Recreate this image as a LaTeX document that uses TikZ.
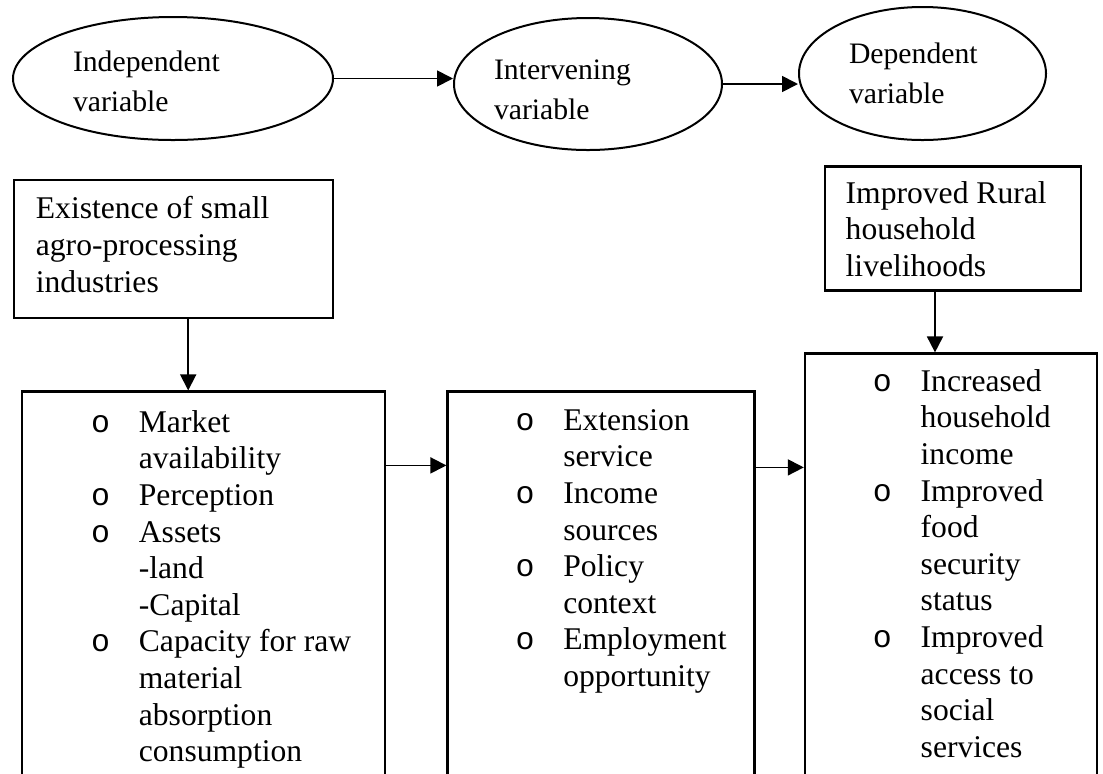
\documentclass[tikz,border=0pt]{standalone}
\usepackage{fontspec}
\setmainfont{Liberation Serif}
\newfontfamily\bulletfont{Liberation Mono}
\newcommand{\bul}{\makebox[23.9pt][l]{\bulletfont o}}
\newcommand{\ind}{\hspace*{23.9pt}}
\usetikzlibrary{positioning, shapes.geometric, arrows.meta}

\begin{document}
\begin{tikzpicture}[
    x=0.5pt, y=-0.5pt,
    ->,
    >={Triangle[length=8pt, width=8pt]},
    line width=0.9pt,
    var/.style={ellipse, draw, line width=1pt, inner sep=0pt, align=left, font=\fontsize{14.85}{20}\selectfont},
    box/.style={rectangle, draw, line width=1.2pt, inner sep=0pt, anchor=north west},
    txt/.style={inner sep=0pt, align=left, anchor=north west, font=\fontsize{15.8}{18.3}\selectfont}
  ]

  \useasboundingbox (0,0) rectangle (1103,773);
  \clip (0,0) rectangle (1103,773);

  % --- VARIABLES (TOP ROW) ---

  \node[var, text width=100pt, minimum width=160pt, minimum height=61.5pt] (indep) at (173,78.5)
    {\rule{0pt}{13.5pt}Independent\\variable};
  \node[var, text width=94pt, minimum width=134pt, minimum height=66pt, right=59.5pt of indep, yshift=-2.75pt] (interv)
    {\rule{0pt}{16pt}Intervening\\variable};
  \node[var, text width=73.5pt, minimum width=123.5pt, minimum height=66.5pt, right=37.5pt of interv, yshift=5.25pt] (dep)
    {\rule{0pt}{12pt}Dependent\\variable\rule[-2.5pt]{0pt}{2.5pt}};

  % --- BOXES ---

  \node[box, minimum width=159.5pt, minimum height=69pt] (boxA) at (13,179) {};
  \node[box, minimum width=181.5pt, minimum height=201pt, below right=35.5pt and 4pt of boxA.south west, anchor=north west] (boxB) {};
  \node[box, minimum width=153.5pt, minimum height=201pt, right=30pt of boxB.north east, anchor=north west] (boxC) {};
  \node[box, minimum width=146pt, minimum height=220pt, above right=19pt and 24pt of boxC.north east, anchor=north west] (boxE) {};
  \node[box, minimum width=128pt, minimum height=62pt, above right=93.5pt and 10pt of boxE.north west, anchor=north west] (boxD) {};

  % --- BOX TEXTS ---

  \node[txt, below right=6.7pt and 11pt of boxA.north west, anchor=north west] (txtA)
    {\strut Existence of small\\agro-processing\\industries};
  \node[txt, below right=5.7pt and 10.5pt of boxD.north west, anchor=north west] (txtD)
    {\strut Improved Rural\\household\\livelihoods};
  \node[txt, below right=7.7pt and 34.6pt of boxB.north west, anchor=north west] (txtB)
    {\strut\bul Market\\ \ind availability\\ \bul Perception\\ \bul Assets\\ \ind -land\\ \ind -Capital\\
     \bul Capacity for raw\\ \ind material\\ \ind absorption\\ \ind consumption};
  \node[txt, below right=6.7pt and 34.1pt of boxC.north west, anchor=north west] (txtC)
    {\strut\bul Extension\\ \ind service\\ \bul Income\\ \ind sources\\ \bul Policy\\ \ind context\\
     \bul Employment\\ \ind opportunity};
  \node[txt, below right=6.2pt and 34.1pt of boxE.north west, anchor=north west] (txtE)
    {\strut\bul Increased\\ \ind household\\ \ind income\\ \bul Improved\\ \ind food\\ \ind security\\ \ind status\\
     \bul Improved\\ \ind access to\\ \ind social\\ \ind services};

  % --- ARROWS ---

  \draw (indep.east) -- (indep.east -| interv.west);
  \draw (interv.east) -- (interv.east -| dep.west);
  \draw ([xshift=7.25pt]boxA.south) -- ([xshift=7.25pt]boxA.south |- boxB.north);
  \draw ([xshift=-9pt]boxD.south) -- ([xshift=-9pt]boxD.south |- boxE.north);
  \draw ([yshift=-37.5pt]boxB.north east) -- ([yshift=-37.5pt]boxC.north west);
  \draw ([yshift=-38.5pt]boxC.north east) -- ([yshift=-38.5pt]boxC.north east -| boxE.west);

\end{tikzpicture}
\end{document}
